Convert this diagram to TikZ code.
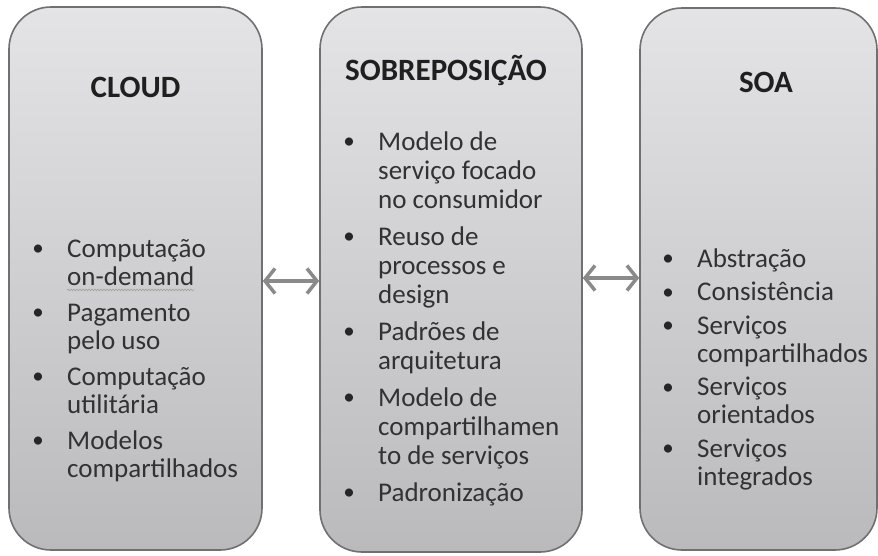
\documentclass[tikz,border=0pt]{standalone}
\usepackage{fontspec}
\setmainfont{Carlito}
\usetikzlibrary{arrows.meta,decorations.pathmorphing}
\definecolor{boxtop}{RGB}{228,228,230}
\definecolor{boxbot}{RGB}{186,186,188}
\definecolor{edgec}{RGB}{112,112,112}
\definecolor{arrc}{RGB}{138,138,138}
\definecolor{txtc}{RGB}{50,50,50}
\begin{document}
\begin{tikzpicture}[x=1pt,y=-1pt,
 panel/.style={draw=edgec, line width=1.6pt, rounded corners=42pt, top color=boxtop, bottom color=boxbot, inner sep=0pt},
 title/.style={font=\fontsize{31}{34}\selectfont\bfseries, text=black!88, anchor=base, inner sep=0pt},
 item/.style={font=\fontsize{27}{29}\selectfont, text=txtc, anchor=base west, inner sep=0pt},
 dot/.style={font=\fontsize{23}{25}\selectfont, text=black!85, anchor=base, inner sep=0pt, yshift=1.5pt},
 arr/.style={draw=arrc, line width=3.5pt, {Straight Barb[length=10pt,width=25pt]}-{Straight Barb[length=10pt,width=25pt]}}
]
\useasboundingbox (0,0) rectangle (878,555);
\fill[white] (0,0) rectangle (878,555);
% panels
\node[panel, minimum width=253pt, minimum height=543pt] (b1) at (135.5,278.5) {};
\node[panel, minimum width=262pt, minimum height=545pt] (b2) at (451,279.5) {};
\node[panel, minimum width=237pt, minimum height=542pt] (b3) at (758.5,279) {};
% titles
\node[title] (t1) at (135.5,97) {CLOUD};
\node[title] (t2) at (446,80) {SOBREPOSIÇÃO};
\node[title] (t3) at (766,92) {SOA};
% left panel
\node[dot] (d11) at (38,257) {•};
\node[item] (l1) at (67,257) {Computação};
\node[item] (l2) at (67,285.5) {on-demand};
\node[dot] (d12) at (38,321) {•};
\node[item] (l3) at (67,321) {Pagamento};
\node[item] (l4) at (67,349.5) {pelo uso};
\node[dot] (d13) at (38,385) {•};
\node[item] (l5) at (67,385) {Computação};
\node[item] (l6) at (67,413.5) {utilitária};
\node[dot] (d14) at (38,449) {•};
\node[item] (l7) at (67,449) {Modelos};
\node[item] (l8) at (67,477.5) {compartilhados};
\draw[decorate, decoration={snake, amplitude=0.9pt, segment length=3pt}, draw=gray!75, line width=0.6pt]
  ([yshift=-4pt]l2.south west) -- ([yshift=-4pt]l2.south east);
% middle panel
\node[dot] (d21) at (349,150) {•};
\node[item] (m1) at (378,150) {Modelo de};
\node[item] (m2) at (378,179) {serviço focado};
\node[item] (m3) at (378,208) {no consumidor};
\node[dot] (d22) at (349,245) {•};
\node[item] (m4) at (378,245) {Reuso de};
\node[item] (m5) at (378,274) {processos e};
\node[item] (m6) at (378,303) {design};
\node[dot] (d23) at (349,340) {•};
\node[item] (m7) at (378,340) {Padrões de};
\node[item] (m8) at (378,369) {arquitetura};
\node[dot] (d24) at (349,406) {•};
\node[item] (m9) at (378,406) {Modelo de};
\node[item] (m10) at (378,435) {compartilhamen};
\node[item] (m11) at (378,464) {to de serviços};
\node[dot] (d25) at (349,501) {•};
\node[item] (m12) at (378,501) {Padronização};
% right panel
\node[dot] (d31) at (668,267) {•};
\node[item] (r1) at (697,267) {Abstração};
\node[dot] (d32) at (668,300.5) {•};
\node[item] (r2) at (697,300.5) {Consistência};
\node[dot] (d33) at (668,334) {•};
\node[item] (r3) at (697,334) {Serviços};
\node[item] (r4) at (697,362) {compartilhados};
\node[dot] (d34) at (668,395.5) {•};
\node[item] (r5) at (697,395.5) {Serviços};
\node[item] (r6) at (697,423.5) {orientados};
\node[dot] (d35) at (668,457) {•};
\node[item] (r7) at (697,457) {Serviços};
\node[item] (r8) at (697,485) {integrados};
% connectors
\draw[arr] ([yshift=-2.5pt]b1.east) -- ([yshift=-2.5pt]b1.east -| b2.west);
\draw[arr] ([yshift=1.5pt]b2.east) -- ([yshift=1.5pt]b2.east -| b3.west);
\end{tikzpicture}
\end{document}
